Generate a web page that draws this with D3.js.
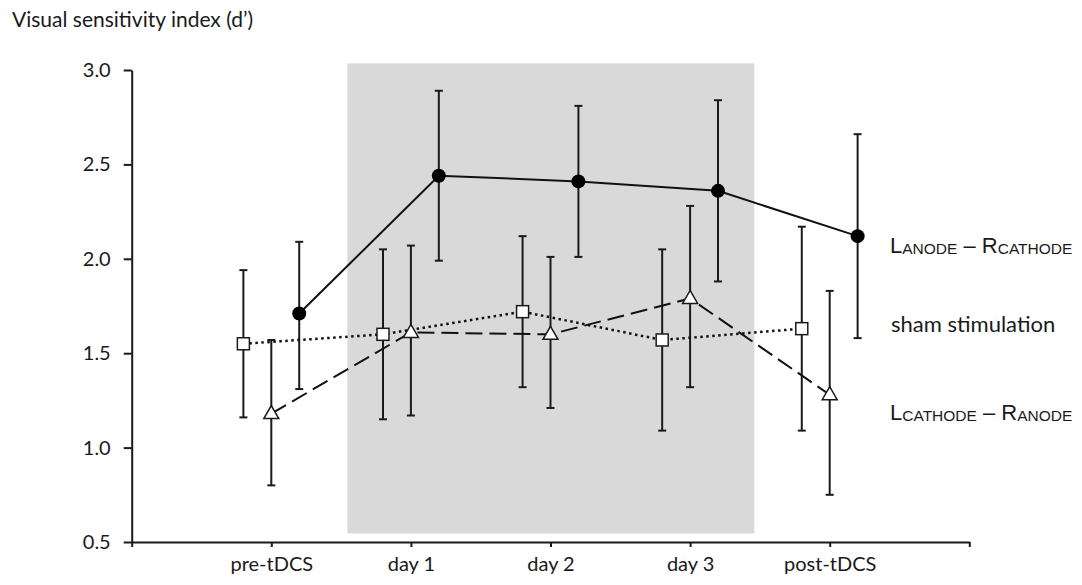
<!DOCTYPE html>
<head>
  <title>Visual sensitivity</title>
  <meta charset="utf-8">
  <script type="text/javascript" src="https://cdn.jsdelivr.net/npm/d3@7"></script>
  <style>
    body { margin: 0; background: #fff; }
    text { font-family: Lato, "Open Sans", sans-serif; fill: #1a1a1a; }
  </style>
</head>
<body>
<script>
  // categories along the x axis
  var sessions = ["pre-tDCS", "day 1", "day 2", "day 3", "post-tDCS"];

  // L anode - R cathode (filled circles)
  var anodeMean = [1.71, 2.44, 2.41, 2.36, 2.12];
  var anodeLow  = [1.31, 1.99, 2.01, 1.88, 1.58];
  var anodeHigh = [2.09, 2.89, 2.81, 2.84, 2.66];

  // sham stimulation (open squares)
  var shamMean = [1.55, 1.60, 1.72, 1.57, 1.63];
  var shamLow  = [1.16, 1.15, 1.32, 1.09, 1.09];
  var shamHigh = [1.94, 2.05, 2.12, 2.05, 2.17];

  // L cathode - R anode (open triangles)
  var cathMean = [1.18, 1.61, 1.60, 1.79, 1.28];
  var cathLow  = [0.80, 1.17, 1.21, 1.32, 0.75];
  var cathHigh = [1.57, 2.07, 2.01, 2.28, 1.83];

  var yTicks = [0.5, 1.0, 1.5, 2.0, 2.5, 3.0];

  var width = 1082, height = 585;

  var svg = d3.select("body")
    .append("svg")
    .attr("width", width)
    .attr("height", height);

  // x is positioned by session index (1..5), 0 and 6 are the axis ends
  var x = d3.scaleLinear().domain([0, 6]).range([131.7, 969.3]);
  var y = d3.scaleLinear().domain([0.5, 3.0]).range([542, 70]);

  // stimulation period shading
  svg.append("rect")
    .attr("x", x(1.545))
    .attr("y", y(3.035))
    .attr("width", x(4.46) - x(1.545))
    .attr("height", y(0.545) - y(3.035))
    .attr("fill", "#d9d9d9");

  // axes
  var yAxis = svg.append("g")
    .attr("transform", "translate(" + x(0) + ",0)")
    .call(d3.axisLeft(y).tickValues(yTicks).tickFormat(d3.format(".1f"))
      .tickSize(8).tickSizeOuter(0).tickPadding(13));

  var xAxis = svg.append("g")
    .attr("transform", "translate(0," + y(0.5) + ")")
    .call(d3.axisBottom(x).tickValues([0, 1, 2, 3, 4, 5, 6])
      .tickFormat(function(d) { return (d >= 1 && d <= 5) ? sessions[d - 1] : ""; })
      .tickSize(5).tickSizeOuter(0).tickPadding(10));

  svg.selectAll(".domain, .tick line")
    .attr("stroke", "#1a1a1a")
    .attr("stroke-width", 2);
  yAxis.selectAll("text").style("font-size", "20px").attr("fill", "#1a1a1a");
  xAxis.selectAll("text").style("font-size", "20px").attr("fill", "#1a1a1a");

  svg.append("text")
    .attr("x", 12)
    .attr("y", 27)
    .style("font-size", "21px")
    .text("Visual sensitivity index (d\u2019)");

  var series = [
    {name: "sham", offset: -0.2, mean: shamMean, low: shamLow, high: shamHigh, dash: "2.5,3.5"},
    {name: "cathode", offset: 0, mean: cathMean, low: cathLow, high: cathHigh, dash: "17,7"},
    {name: "anode", offset: 0.2, mean: anodeMean, low: anodeLow, high: anodeHigh, dash: null}
  ];

  // error bars
  series.forEach(function(s) {
    var g = svg.append("g");
    for (let i = 0; i < sessions.length; i++) {
      var cx = x(i + 1 + s.offset);
      g.append("line")
        .attr("x1", cx).attr("x2", cx)
        .attr("y1", y(s.low[i])).attr("y2", y(s.high[i]))
        .attr("stroke", "#1a1a1a").attr("stroke-width", 2);
      [s.low[i], s.high[i]].forEach(function(v) {
        g.append("line")
          .attr("x1", cx - 4).attr("x2", cx + 4)
          .attr("y1", y(v)).attr("y2", y(v))
          .attr("stroke", "#1a1a1a").attr("stroke-width", 2);
      });
    }
  });

  // connecting lines
  series.forEach(function(s) {
    var line = d3.line()
      .x(function(d, i) { return x(i + 1 + s.offset); })
      .y(function(d) { return y(d); });
    svg.append("path")
      .datum(s.mean)
      .attr("d", line)
      .attr("fill", "none")
      .attr("stroke", "#111")
      .attr("stroke-width", s.name == "sham" ? 2.5 : 2)
      .attr("stroke-dasharray", s.dash);
  });

  // markers
  var sq = series[0], tri = series[1], circ = series[2];

  svg.selectAll(".sq")
    .data(sq.mean)
    .enter()
    .append("rect")
    .attr("x", function(d, i) { return x(i + 1 + sq.offset) - 6; })
    .attr("y", function(d) { return y(d) - 6; })
    .attr("width", 12)
    .attr("height", 12)
    .attr("fill", "#fff")
    .attr("stroke", "#1a1a1a")
    .attr("stroke-width", 1.5);

  svg.selectAll(".tri")
    .data(tri.mean)
    .enter()
    .append("path")
    .attr("d", function(d, i) {
      var cx = x(i + 1 + tri.offset), cy = y(d);
      return "M" + cx + "," + (cy - 8) + "L" + (cx + 7.5) + "," + (cy + 5) + "L" + (cx - 7.5) + "," + (cy + 5) + "Z";
    })
    .attr("fill", "#fff")
    .attr("stroke", "#1a1a1a")
    .attr("stroke-width", 1.5);

  svg.selectAll(".circ")
    .data(circ.mean)
    .enter()
    .append("circle")
    .attr("cx", function(d, i) { return x(i + 1 + circ.offset); })
    .attr("cy", function(d) { return y(d); })
    .attr("r", 7)
    .attr("fill", "#000");

  // series labels at right
  function electrodeLabel(yPos, a, b) {
    var t = svg.append("text")
      .attr("x", 890)
      .attr("y", yPos)
      .style("font-family", "'Liberation Sans', Arial, sans-serif")
      .style("font-size", "22px");
    t.append("tspan").text("L");
    t.append("tspan").style("font-size", "15.5px").attr("dy", 1).text(a);
    t.append("tspan").attr("dy", -1).text(" \u2013 R");
    t.append("tspan").style("font-size", "15.5px").attr("dy", 1).text(b);
  }
  electrodeLabel(253, "ANODE", "CATHODE");
  electrodeLabel(420, "CATHODE", "ANODE");

  svg.append("text")
    .attr("x", 891)
    .attr("y", 332)
    .style("font-size", "22px")
    .text("sham stimulation");
</script>
</body>
